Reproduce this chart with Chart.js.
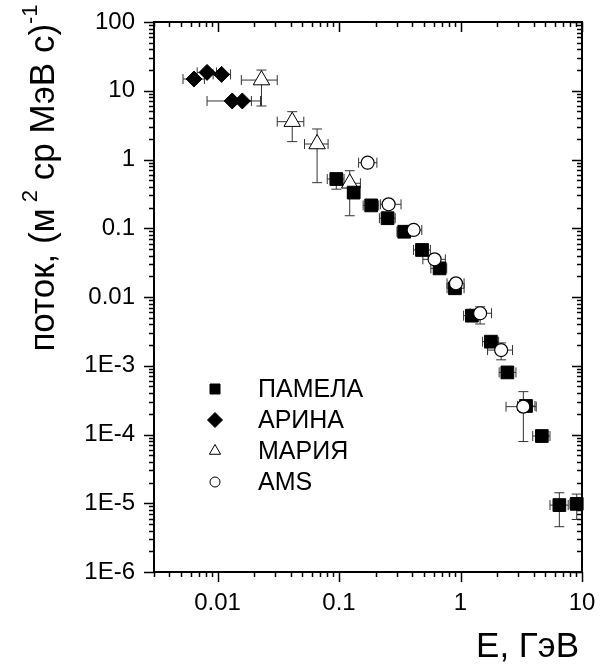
<!DOCTYPE html>
<html>
<head>
<meta charset="utf-8">
<script src="https://cdn.jsdelivr.net/npm/chart.js@4/dist/chart.umd.min.js"></script>
<style>
  html, body { margin: 0; padding: 0; background: #fff; }
</style>
</head>
<body>
<canvas id="fluxChart" width="606" height="664"></canvas>
<script>
const FONT = '"Liberation Sans", Arial, Helvetica, sans-serif';

// ПАМЕЛА (squares)
const pamelaE     = [0.095, 0.132, 0.184, 0.251, 0.344, 0.482, 0.673, 0.90, 1.24, 1.78, 2.43, 3.46, 4.67, 6.51, 9.05];
const pamelaFlux  = [0.52, 0.33, 0.215, 0.14, 0.089, 0.0483, 0.0261, 0.0134, 0.00535, 0.00224, 0.0008, 0.00026, 0.000095, 0.0000094, 0.0000098];
const pamelaElo   = [0.080, 0.118, 0.158, 0.215, 0.30, 0.41, 0.57, 0.775, 1.06, 1.52, 2.08, 2.95, 3.93, 5.45, 7.97];
const pamelaEhi   = [0.110, 0.148, 0.212, 0.29, 0.40, 0.565, 0.77, 1.07, 1.45, 2.06, 2.86, 4.1, 5.45, 7.7, 10.0];
const pamelaFlo   = [0.37, null, null, null, null, null, null, null, null, null, null, null, null, 0.00000456, 0.0000058];
const pamelaFhi   = [0.62, null, null, null, null, null, null, null, null, null, null, null, null, 0.0000142, 0.0000136];

// АРИНА (diamonds)
const arinaE    = [0.0064, 0.0082, 0.0108, 0.0132, 0.016];
const arinaFlux = [14.8, 18.5, 17.3, 7.1, 7.1];
const arinaElo  = [0.0052, 0.0068, 0.0092, 0.0082, 0.0135];
const arinaEhi  = [0.0078, 0.0098, 0.0128, 0.019, 0.0226];

// МАРИЯ (triangles)
const mariaE    = [0.023, 0.0412, 0.066, 0.1225];
const mariaFlux = [14.3, 3.55, 1.68, 0.451];
const mariaElo  = [0.0157, 0.031, 0.052, 0.107];
const mariaEhi  = [0.031, 0.0513, 0.0813, 0.15];
const mariaFlo  = [6.0, 1.82, 0.46, 0.152];
const mariaFhi  = [20, 4.96, 2.78, 0.687];

// AMS (circles)
const amsE    = [0.172, 0.256, 0.411, 0.612, 0.917, 1.45, 2.16, 3.29];
const amsFlux = [0.898, 0.223, 0.0944, 0.0353, 0.0158, 0.0058, 0.00169, 0.000254];
const amsElo  = [0.145, 0.219, 0.36, 0.49, 0.775, 1.2, 1.67, 2.37];
const amsEhi  = [0.205, 0.324, 0.48, 0.75, 1.07, 1.8, 2.68, 4.2];
const amsFlo  = [null, null, null, null, null, 0.00405, 0.00122, 0.000079];
const amsFhi  = [null, null, null, null, null, 0.0072, 0.00215, 0.00042];

// tick labels
const xTicks = [0.01, 0.1, 1, 10];
const xTickLabels = ['0.01', '0.1', '1', '10'];
const yTicks = [100, 10, 1, 0.1, 0.01, 1e-3, 1e-4, 1e-5, 1e-6];
const yTickLabels = ['100', '10', '1', '0.1', '0.01', '1E-3', '1E-4', '1E-5', '1E-6'];

function points(xs, ys) {
  return xs.map((x, i) => ({ x: x, y: ys[i] }));
}
function errs(lo, hi, flo, fhi) {
  return lo.map((_, i) => ({
    xlo: lo[i], xhi: hi[i],
    ylo: flo ? flo[i] : null, yhi: fhi ? fhi[i] : null
  }));
}

// error bars, under all markers
const errorBars = {
  id: 'errorBars',
  beforeDatasetsDraw(chart) {
    const ctx = chart.ctx;
    const xs = chart.scales.x, ys = chart.scales.y;
    const cap = 5;
    ctx.save();
    ctx.strokeStyle = '#333';
    ctx.lineWidth = 1;
    chart.data.datasets.forEach(ds => {
      ds.data.forEach((p, i) => {
        const e = ds.errors[i];
        const px = xs.getPixelForValue(p.x), py = ys.getPixelForValue(p.y);
        ctx.beginPath();
        if (e.xlo != null) {
          const a = xs.getPixelForValue(e.xlo), b = xs.getPixelForValue(e.xhi);
          ctx.moveTo(a, py); ctx.lineTo(b, py);
          ctx.moveTo(a, py - cap); ctx.lineTo(a, py + cap);
          ctx.moveTo(b, py - cap); ctx.lineTo(b, py + cap);
        }
        if (e.ylo != null) {
          const a = ys.getPixelForValue(e.ylo), b = ys.getPixelForValue(e.yhi);
          ctx.moveTo(px, a); ctx.lineTo(px, b);
          ctx.moveTo(px - cap, a); ctx.lineTo(px + cap, a);
          ctx.moveTo(px - cap, b); ctx.lineTo(px + cap, b);
        }
        ctx.stroke();
      });
    });
    ctx.restore();
  }
};

// frame with major/minor ticks: outward on left/bottom, inward on top/right
const frame = {
  id: 'frame',
  afterDraw(chart) {
    const ctx = chart.ctx;
    const { left, right, top, bottom } = chart.chartArea;
    const xs = chart.scales.x, ys = chart.scales.y;
    ctx.save();
    ctx.strokeStyle = '#000';
    ctx.lineWidth = 1.5;
    ctx.beginPath();
    for (let e = -3; e <= 1; e++) {
      for (let m = 1; m <= 9; m++) {
        const v = m * Math.pow(10, e);
        if (v < xs.min * 0.999 || v > xs.max * 1.001) continue;
        const px = Math.round(xs.getPixelForValue(v)) + 0.5;
        const len = m === 1 ? 10 : 5;
        ctx.moveTo(px, bottom); ctx.lineTo(px, bottom + len);
        ctx.moveTo(px, top); ctx.lineTo(px, top + len);
      }
    }
    for (let e = -6; e <= 2; e++) {
      for (let m = 1; m <= 9; m++) {
        const v = m * Math.pow(10, e);
        if (v < ys.min * 0.999 || v > ys.max * 1.001) continue;
        const py = Math.round(ys.getPixelForValue(v)) + 0.5;
        const len = m === 1 ? 10 : 5;
        ctx.moveTo(left - len, py); ctx.lineTo(left, py);
        ctx.moveTo(right - len, py); ctx.lineTo(right, py);
      }
    }
    ctx.stroke();
    ctx.lineWidth = 2;
    ctx.strokeRect(left, top, right - left, bottom - top);
    ctx.restore();
  }
};

function marker(ctx, style, x, y, r) {
  ctx.beginPath();
  if (style === 'rect') {
    ctx.rect(x - r, y - r, 2 * r, 2 * r);
  } else if (style === 'rectRot') {
    ctx.moveTo(x, y - r); ctx.lineTo(x + r, y); ctx.lineTo(x, y + r); ctx.lineTo(x - r, y); ctx.closePath();
  } else if (style === 'triangle') {
    ctx.moveTo(x, y - r); ctx.lineTo(x + r * 0.866, y + r * 0.5); ctx.lineTo(x - r * 0.866, y + r * 0.5); ctx.closePath();
  } else {
    ctx.arc(x, y, r, 0, Math.PI * 2);
  }
}

const legendBox = {
  id: 'legendBox',
  afterDraw(chart) {
    const ctx = chart.ctx;
    const { left, top } = chart.chartArea;
    const sizes = { rect: 5, rectRot: 7.5, triangle: 6.5, circle: 5 };
    ctx.save();
    ctx.font = '25px ' + FONT;
    ctx.textBaseline = 'middle';
    ctx.fillStyle = '#000';
    chart.data.datasets.forEach(ds => {
      const x = left + 61, y = top + ds.legendRow;
      marker(ctx, ds.pointStyle, x, y, sizes[ds.pointStyle]);
      ctx.fillStyle = ds.backgroundColor;
      ctx.fill();
      ctx.strokeStyle = '#000';
      ctx.lineWidth = 1;
      ctx.stroke();
      ctx.fillStyle = '#000';
      ctx.fillText(ds.label, left + 104, y + 1);
    });
    ctx.restore();
  }
};

const axisTitles = {
  id: 'axisTitles',
  afterDraw(chart) {
    const ctx = chart.ctx;
    ctx.save();
    ctx.fillStyle = '#000';
    // x title
    ctx.font = '35px ' + FONT;
    ctx.textAlign = 'right';
    ctx.textBaseline = 'alphabetic';
    ctx.fillText('E, ГэВ', 579, 657);
    // y title with superscripts
    const parts = [
      { t: 'поток, (м', sup: false },
      { t: ' 2', sup: true },
      { t: ' ср МэВ с)', sup: false },
      { t: '-1', sup: true }
    ];
    const big = '35px ' + FONT, small = '22px ' + FONT;
    let total = 0;
    parts.forEach(p => { ctx.font = p.sup ? small : big; p.w = ctx.measureText(p.t).width; total += p.w; });
    ctx.translate(54, 178);
    ctx.rotate(-Math.PI / 2);
    ctx.textAlign = 'left';
    let cx = -total / 2;
    parts.forEach(p => {
      ctx.font = p.sup ? small : big;
      ctx.fillText(p.t, cx, p.sup ? -17 : 0);
      cx += p.w;
    });
    ctx.restore();
  }
};

const datasets = [
  {
    label: 'ПАМЕЛА', order: 1, legendRow: 367,
    data: points(pamelaE, pamelaFlux),
    errors: errs(pamelaElo, pamelaEhi, pamelaFlo, pamelaFhi),
    pointStyle: 'rect', pointRadius: 9,
    backgroundColor: '#000', borderColor: '#000', borderWidth: 1
  },
  {
    label: 'АРИНА', order: 3, legendRow: 398,
    data: points(arinaE, arinaFlux),
    errors: errs(arinaElo, arinaEhi),
    pointStyle: 'rectRot', pointRadius: 8,
    backgroundColor: '#000', borderColor: '#000', borderWidth: 1
  },
  {
    label: 'МАРИЯ', order: 2, legendRow: 429,
    data: points(mariaE, mariaFlux),
    errors: errs(mariaElo, mariaEhi, mariaFlo, mariaFhi),
    pointStyle: 'triangle', pointRadius: 9.5,
    backgroundColor: '#fff', borderColor: '#000', borderWidth: 1
  },
  {
    label: 'AMS', order: 0, legendRow: 460,
    data: points(amsE, amsFlux),
    errors: errs(amsElo, amsEhi, amsFlo, amsFhi),
    pointStyle: 'circle', pointRadius: 6.5,
    backgroundColor: '#fff', borderColor: '#000', borderWidth: 1.2
  }
];

new Chart(document.getElementById('fluxChart'), {
  type: 'scatter',
  data: { datasets: datasets.map(d => Object.assign({ clip: false, pointHoverRadius: d.pointRadius }, d)) },
  options: {
    responsive: false,
    animation: false,
    layout: { padding: { top: 22, right: 24, left: 0, bottom: 0 } },
    plugins: { legend: { display: false }, tooltip: { enabled: false } },
    scales: {
      x: {
        type: 'logarithmic', position: 'bottom', min: 0.003, max: 10,
        grid: { display: false, drawTicks: false },
        border: { display: false },
        afterBuildTicks: s => { s.ticks = xTicks.map(v => ({ value: v })); },
        afterFit: s => { s.height = 92; s.paddingLeft = 0; s.paddingRight = 0; },
        ticks: {
          autoSkip: false, maxRotation: 0, padding: 17, color: '#000',
          font: { family: FONT, size: 24 },
          callback: v => xTickLabels[xTicks.indexOf(v)]
        }
      },
      y: {
        type: 'logarithmic', position: 'left', min: 1e-6, max: 100,
        grid: { display: false, drawTicks: false },
        border: { display: false },
        afterBuildTicks: s => { s.ticks = yTicks.map(v => ({ value: v })); },
        afterFit: s => { s.width = 154; s.paddingTop = 0; s.paddingBottom = 0; },
        ticks: {
          autoSkip: false, padding: 19, color: '#000',
          font: { family: FONT, size: 24 },
          callback: v => yTickLabels[yTicks.indexOf(v)]
        }
      }
    }
  },
  plugins: [errorBars, frame, legendBox, axisTitles]
});
</script>
</body>
</html>
